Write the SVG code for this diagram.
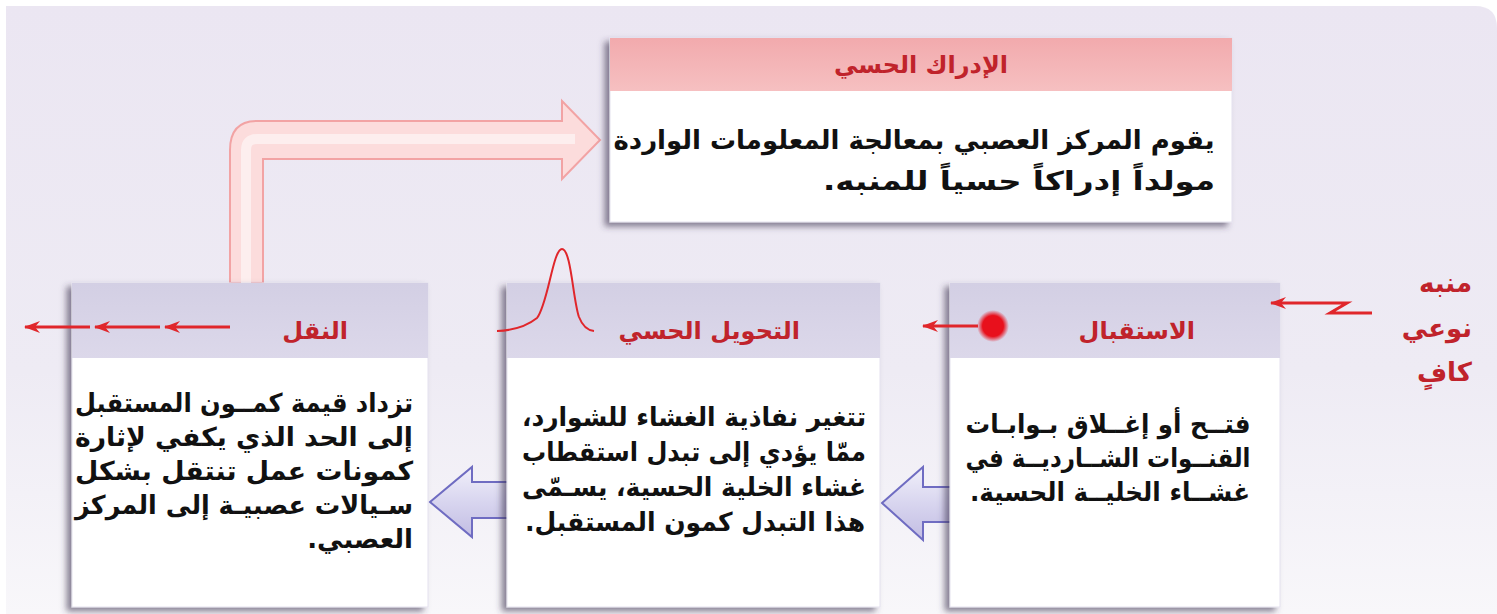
<svg xmlns="http://www.w3.org/2000/svg" width="1497" height="614" viewBox="0 0 1497 614">
<defs>
  <linearGradient id="bg" x1="0" y1="0" x2="0" y2="1">
    <stop offset="0" stop-color="#ebe6f2"/>
    <stop offset="0.6" stop-color="#eeebf4"/>
    <stop offset="1" stop-color="#f8f7fa"/>
  </linearGradient>
  <linearGradient id="hdr" x1="0" y1="0" x2="0" y2="1">
    <stop offset="0" stop-color="#d3cfe4"/>
    <stop offset="1" stop-color="#dcd8ea"/>
  </linearGradient>
  <linearGradient id="pinkhdr" x1="0" y1="0" x2="0" y2="1">
    <stop offset="0" stop-color="#f2aaad"/>
    <stop offset="1" stop-color="#f6c0c1"/>
  </linearGradient>
  <linearGradient id="blue" x1="0" y1="0" x2="0" y2="1">
    <stop offset="0" stop-color="#f1f0fa"/>
    <stop offset="0.5" stop-color="#d8d5ef"/>
    <stop offset="1" stop-color="#c2bde3"/>
  </linearGradient>
  <radialGradient id="dot">
    <stop offset="0" stop-color="#e8101c"/>
    <stop offset="0.65" stop-color="#e8101c"/>
    <stop offset="1" stop-color="#e8101c" stop-opacity="0"/>
  </radialGradient>
  <filter id="sh" x="-10%" y="-10%" width="125%" height="125%">
    <feDropShadow dx="-5" dy="4" stdDeviation="3" flood-color="#3d3550" flood-opacity="0.6"/>
  </filter>
  <marker id="ah" viewBox="0 0 16 12" refX="15" refY="6" markerWidth="16" markerHeight="12" markerUnits="userSpaceOnUse" orient="auto">
    <path d="M0,0 L16,6 L0,12 L5,6 Z" fill="#e0262b"/>
  </marker>
  <style>
    .box{fill:#ffffff;stroke:#e4e1ee;stroke-width:1}
    .hd{fill:url(#hdr)}
    .b{font-family:"DejaVu Sans","Liberation Sans",sans-serif;font-weight:bold;font-size:26px;fill:#111111}
    .t{font-family:"DejaVu Sans","Liberation Sans",sans-serif;font-weight:bold;font-size:24px;fill:#c0232b}
    .s{font-family:"DejaVu Sans","Liberation Sans",sans-serif;font-weight:bold;font-size:26px;fill:#c0232b}
    .ra{stroke:#e0262b;stroke-width:3;fill:none}
    .ba{fill:url(#blue);stroke:#6f6cc2;stroke-width:2}
  </style>
</defs>

<rect width="1497" height="614" fill="#ffffff"/>
<path d="M6,6 H1475 Q1497,6 1497,28 V614 H6 Z" fill="url(#bg)"/>

<g id="connectors">
  <path d="M230,283 V150 Q230,121 257,121 H562 V101 L600,140 L562,179 V159 H263 V283 Z" fill="#fcdcdc" stroke="#f2a3a4" stroke-width="2"/>
  <path d="M246,283 V150 Q246,139 257,139 H575" fill="none" stroke="#fdeeee" stroke-width="10"/>
  <path class="ba" d="M510,482 H472 V467 L430,502 L472,537 V518 H510"/>
  <path class="ba" d="M953,487 H923 V467 L882,503 L923,540 V522 H953"/>
</g>

<g id="node-perception">
  <rect x="610" y="38" width="622" height="184" class="box" filter="url(#sh)"/>
  <rect x="610" y="38" width="622" height="53" fill="url(#pinkhdr)"/>
  <text class="t" x="921" y="73" text-anchor="middle" direction="rtl">الإدراك الحسي</text>
  <text class="b" x="914" y="149" text-anchor="middle" direction="rtl" textLength="601" lengthAdjust="spacingAndGlyphs">يقوم المركز العصبي بمعالجة المعلومات الواردة</text>
  <text class="b" x="1215" y="190" text-anchor="start" direction="rtl" textLength="392" lengthAdjust="spacingAndGlyphs">مولداً إدراكاً حسياً للمنبه.</text>
</g>

<g id="node-transmission">
  <rect x="72" y="283" width="356" height="324" class="box" filter="url(#sh)"/>
  <rect x="72" y="283" width="356" height="75" class="hd"/>
  <text class="t" x="348" y="339" text-anchor="start" direction="rtl">النقل</text>
  <text class="b" x="244" y="412" text-anchor="middle" direction="rtl" textLength="338" lengthAdjust="spacingAndGlyphs">تزداد قيمة كمــون المستقبل</text>
  <text class="b" x="244" y="446" text-anchor="middle" direction="rtl" textLength="338" lengthAdjust="spacingAndGlyphs">إلى الحد الذي يكفي لإثارة</text>
  <text class="b" x="244" y="480" text-anchor="middle" direction="rtl" textLength="338" lengthAdjust="spacingAndGlyphs">كمونات عمل تنتقل بشكل</text>
  <text class="b" x="244" y="514" text-anchor="middle" direction="rtl" textLength="338" lengthAdjust="spacingAndGlyphs">سـيالات عصبيـة إلى المركز</text>
  <text class="b" x="413" y="548" text-anchor="start" direction="rtl">العصبي.</text>
</g>

<g id="node-transduction">
  <rect x="507" y="283" width="373" height="324" class="box" filter="url(#sh)"/>
  <rect x="507" y="283" width="373" height="75" class="hd"/>
  <text class="t" x="800" y="339" text-anchor="start" direction="rtl">التحويل الحسي</text>
  <path d="M497,331 Q522,330 537,318 C548,304 553,249 562,249 C571,249 573,300 579,317 Q584,330 594,331" fill="none" stroke="#e0262b" stroke-width="2"/>
  <text class="b" x="694" y="426" text-anchor="middle" direction="rtl" textLength="344" lengthAdjust="spacingAndGlyphs">تتغير نفاذية الغشاء للشوارد،</text>
  <text class="b" x="694" y="461" text-anchor="middle" direction="rtl" textLength="344" lengthAdjust="spacingAndGlyphs">ممّا يؤدي إلى تبدل استقطاب</text>
  <text class="b" x="694" y="496" text-anchor="middle" direction="rtl" textLength="344" lengthAdjust="spacingAndGlyphs">غشاء الخلية الحسية، يسـمّى</text>
  <text class="b" x="695" y="531" text-anchor="middle" direction="rtl" textLength="340" lengthAdjust="spacingAndGlyphs">هذا التبدل كمون المستقبل.</text>
</g>

<g id="node-reception">
  <rect x="950" y="283" width="330" height="324" class="box" filter="url(#sh)"/>
  <rect x="950" y="283" width="330" height="75" class="hd"/>
  <text class="t" x="1195" y="339" text-anchor="start" direction="rtl">الاستقبال</text>
  <circle cx="993" cy="326" r="16" fill="url(#dot)"/>
  <text class="b" x="1108" y="433" text-anchor="middle" direction="rtl" textLength="285" lengthAdjust="spacingAndGlyphs">فتــح أو إغــلاق بـوابـات</text>
  <text class="b" x="1108" y="467" text-anchor="middle" direction="rtl" textLength="285" lengthAdjust="spacingAndGlyphs">القنــوات الشــارديــة في</text>
  <text class="b" x="1110" y="501" text-anchor="middle" direction="rtl" textLength="280" lengthAdjust="spacingAndGlyphs">غشــاء الخليــة الحسية.</text>
</g>

<g id="node-stimulus">
  <text class="s" x="1472" y="292" text-anchor="start" direction="rtl">منبه</text>
  <text class="s" x="1472" y="337" text-anchor="start" direction="rtl">نوعي</text>
  <text class="s" x="1472" y="381" text-anchor="start" direction="rtl">كافٍ</text>
</g>

<g id="signal-arrows">
  <path class="ra" d="M1372,313 H1330 L1347,303 H1271" marker-end="url(#ah)"/>
  <line class="ra" x1="978" y1="326" x2="923" y2="326" marker-end="url(#ah)"/>
  <line class="ra" x1="230" y1="327" x2="165" y2="327" marker-end="url(#ah)"/>
  <line class="ra" x1="160" y1="327" x2="95" y2="327" marker-end="url(#ah)"/>
  <line class="ra" x1="90" y1="327" x2="25" y2="327" marker-end="url(#ah)"/>
</g>
</svg>
